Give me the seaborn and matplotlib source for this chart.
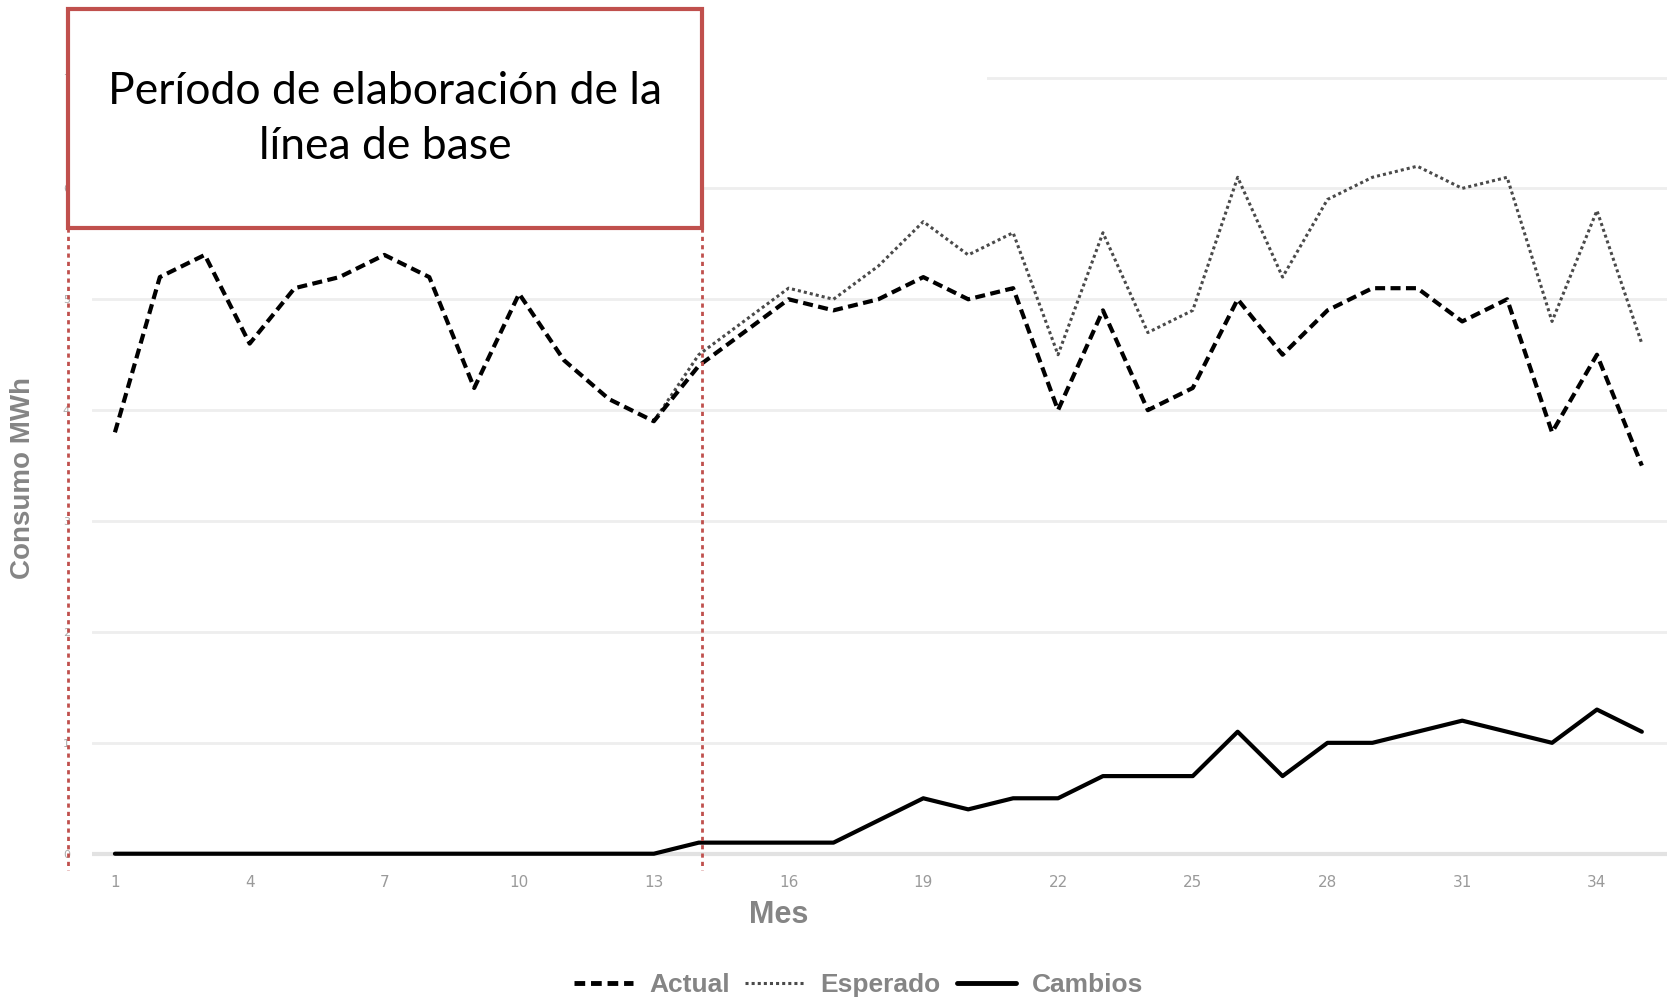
import matplotlib
matplotlib.use('Agg')
import matplotlib.pyplot as plt
from matplotlib.patches import Rectangle
from matplotlib.lines import Line2D
import pandas as pd
import seaborn as sns

meses = list(range(1, 36))
actual = [3.8, 5.2, 5.4, 4.6, 5.1, 5.2, 5.4, 5.2, 4.2, 5.05, 4.45, 4.1, 3.9,
          4.4, 4.7, 5.0, 4.9, 5.0, 5.2, 5.0, 5.1, 4.0, 4.9, 4.0, 4.2, 5.0,
          4.5, 4.9, 5.1, 5.1, 4.8, 5.0, 3.8, 4.5, 3.5]
meses_esperado = list(range(13, 36))
esperado = [3.9, 4.5, 4.8, 5.1, 5.0, 5.3, 5.7, 5.4, 5.6, 4.5, 5.6, 4.7,
            4.9, 6.1, 5.2, 5.9, 6.1, 6.2, 6.0, 6.1, 4.8, 5.8, 4.6]
cambios = [0, 0, 0, 0, 0, 0, 0, 0, 0, 0, 0, 0, 0,
           0.1, 0.1, 0.1, 0.1, 0.3, 0.5, 0.4, 0.5, 0.5, 0.7, 0.7, 0.7, 1.1,
           0.7, 1.0, 1.0, 1.1, 1.2, 1.1, 1.0, 1.3, 1.1]
xticks = list(range(1, 36, 3))
yticks = list(range(0, 8))
etiquetas = ['Actual', 'Esperado', 'Cambios']
texto_caja = 'Período de elaboración de la\nlínea de base'

df = pd.DataFrame({'Mes': meses, 'Actual': actual, 'Cambios': cambios})
df_esp = pd.DataFrame({'Mes': meses_esperado, 'Esperado': esperado})

sns.set_theme(style='white')
rojo = '#C0504D'
gris = '#858585'
estilo_actual = (0, (2.4, 1.3))
estilo_esperado = (0, (1.0, 1.0))

fig = plt.figure(figsize=(16.67, 9.98), dpi=100)
ax = fig.add_axes([0.0552, 0.1279, 0.9448, 0.800])

ax.axhline(0, color='#e2e2e2', lw=3, zorder=1)
sns.lineplot(data=df_esp, x='Mes', y='Esperado', ax=ax, color='#4a4a4a',
             lw=2.2, linestyle=estilo_esperado, zorder=3)
sns.lineplot(data=df, x='Mes', y='Actual', ax=ax, color='black',
             lw=3.0, linestyle=estilo_actual, zorder=4)
sns.lineplot(data=df, x='Mes', y='Cambios', ax=ax, color='black',
             lw=3.0, zorder=4)

ax.set_xlim(0.49, 35.56)
ax.set_ylim(-0.15, 7.05)
ax.set_xticks(xticks)
ax.set_yticks(yticks)
ax.set_xlabel('')
ax.set_ylabel('')
ax.grid(axis='y', color='#eeeeee', lw=2, zorder=0)
ax.grid(axis='x', visible=False)
for s in ax.spines.values():
    s.set_visible(False)
ax.tick_params(axis='both', length=0)
ax.tick_params(axis='x', labelsize=11, labelcolor='#9a9a9a', pad=3)
ax.tick_params(axis='y', labelsize=8, labelcolor='#aaaaaa', pad=16)
for t in ax.get_xticklabels():
    t.set_family(['Liberation Sans Narrow', 'DejaVu Sans'])

# tapa la linea superior como en la imagen original
fig.patches.append(Rectangle((0.0552, 0.915), 0.592 - 0.0552, 0.014,
                             transform=fig.transFigure, facecolor='white',
                             edgecolor='none', zorder=1))

# caja del periodo de linea de base
x0, x1 = 68 / 1667, 702 / 1667
y_bajo, y_alto = 1 - 227.5 / 998, 1 - 8.5 / 998
fig.patches.append(Rectangle((x0, y_bajo), x1 - x0, y_alto - y_bajo,
                             transform=fig.transFigure, facecolor='white',
                             edgecolor=rojo, lw=3, zorder=5))
for xv in (x0, x1):
    fig.lines.append(Line2D([xv, xv], [y_bajo, 1 - 870 / 998],
                            transform=fig.transFigure, color=rojo, lw=2,
                            linestyle=(0, (1.5, 1.5)), zorder=5))
fig.text((x0 + x1) / 2, 1 - 119 / 998, texto_caja, ha='center', va='center',
         fontsize=32, family='Lato', color='black', linespacing=1.4,
         zorder=6)

fig.text(0.0138, 0.521, 'Consumo MWh', rotation=90, ha='center',
         va='center', fontsize=20, weight='bold', color=gris,
         family='Liberation Sans')
fig.text(0.467, 0.083, 'Mes', ha='center', va='center', fontsize=22,
         weight='bold', color=gris, family='Liberation Sans')

handles = [Line2D([], [], color='black', lw=3.5, linestyle=(0, (2.2, 1.2))),
           Line2D([], [], color='#4a4a4a', lw=2.2, linestyle=(0, (1.0, 1.0))),
           Line2D([], [], color='black', lw=3.5)]
fig.legend(handles, etiquetas, loc='center', bbox_to_anchor=(0.515, 0.013),
           ncol=3, frameon=False, labelcolor=gris,
           prop=dict(weight='bold', size=19, family='Liberation Sans'),
           handlelength=2.25, handletextpad=0.6, columnspacing=0.6)

fig.savefig('out.png', dpi=100)
